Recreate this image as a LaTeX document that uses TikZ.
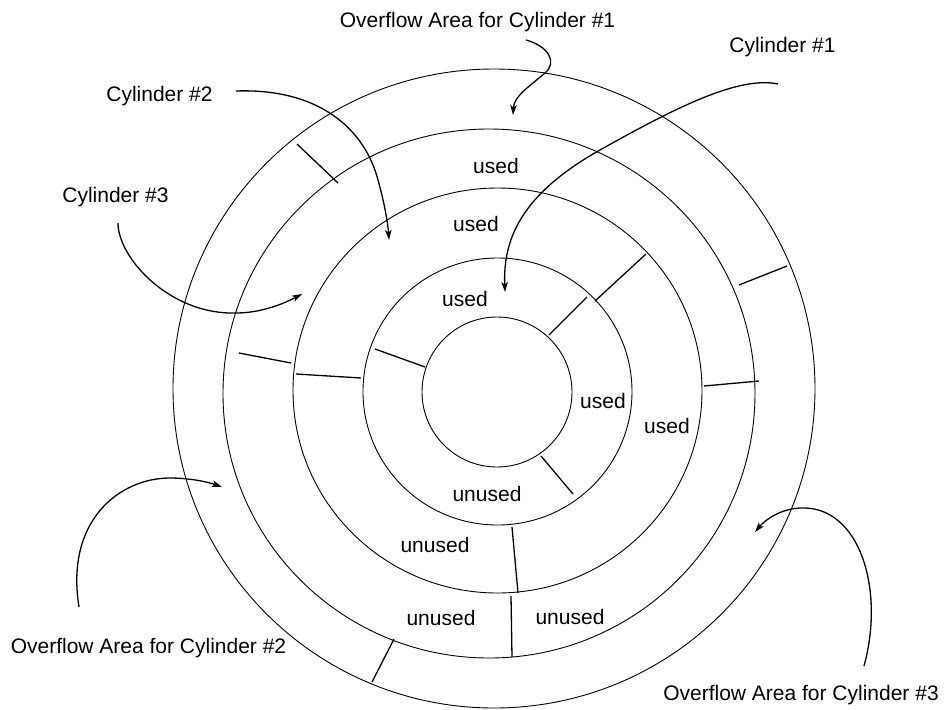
\documentclass[tikz,border=0pt]{standalone}
\usepackage{fontspec}
\setmainfont{Liberation Sans}
\usetikzlibrary{arrows.meta}
\begin{document}
\begin{tikzpicture}[x=1pt,y=-1pt,
  ring/.style={line width=0.9pt},
  tick/.style={line width=1.3pt},
  pointer/.style={line width=1.3pt,-{Stealth[length=10pt,width=6.5pt,inset=2.5pt]}},
  lbl/.style={font=\fontsize{21}{24}\selectfont,anchor=base,inner sep=0pt}]
\useasboundingbox (0,0) rectangle (946,710);
% rings
\draw[ring] (497,392) circle[x radius=75,y radius=75];
\draw[ring] (497.5,391.5) circle[x radius=134.5,y radius=133.5];
\draw[ring] (497.5,390.5) circle[x radius=204.5,y radius=202.5];
\draw[ring] (489,393.5) circle[x radius=266,y radius=264.5];
\draw[ring] (494,388.5) circle[x radius=321,y radius=319.5];
% separators
\draw[tick] (297,144) -- (338,183);
\draw[tick] (239,353) -- (291,363);
\draw[tick] (296,374) -- (361,378);
\draw[tick] (375,349) -- (425,367);
\draw[tick] (549,335) -- (587,297);
\draw[tick] (595,301) -- (646,254);
\draw[tick] (739,285) -- (787,266);
\draw[tick] (704,386) -- (759,381);
\draw[tick] (541,456) -- (573,494);
\draw[tick] (512,527) -- (518,593);
\draw[tick] (511,596) -- (512,657);
\draw[tick] (394,639) -- (372,682);
% ring labels
\node[lbl] (u1) at (496,173) {used};
\node[lbl] (u2) at (476,231) {used};
\node[lbl] (u3) at (465,306) {used};
\node[lbl] (u4) at (603,408) {used};
\node[lbl] (u5) at (667,433) {used};
\node[lbl] (n1) at (487,501) {unused};
\node[lbl] (n2) at (435,552) {unused};
\node[lbl] (n3) at (441,625) {unused};
\node[lbl] (n4) at (570,624) {unused};
% callout labels
\node[lbl] (oa1) at (477.5,27) {Overflow Area for Cylinder \#1};
\node[lbl] (c1) at (782.5,52) {Cylinder \#1};
\node[lbl] (c2) at (159.5,101) {Cylinder \#2};
\node[lbl] (c3) at (115.5,202) {Cylinder \#3};
\node[lbl] (oa2) at (148.5,653) {Overflow Area for Cylinder \#2};
\node[lbl] (oa3) at (801,700) {Overflow Area for Cylinder \#3};
% arrow ends
\coordinate (a1s) at (526,40);   \coordinate (a1e) at (513,115);
\coordinate (b1s) at (778,84);   \coordinate (b1e) at (505,292);
\coordinate (c2s) at (236,91);   \coordinate (c2e) at (389,240);
\coordinate (c3s) at (118,223);  \coordinate (c3e) at (302,294);
\coordinate (o2s) at (79,607);   \coordinate (o2e) at (222,487);
\coordinate (o3s) at (864,666);  \coordinate (o3e) at (755,532);
% arrows
\draw[pointer] (a1s) .. controls (548,46) and (558,62) .. (545,73)
   .. controls (530,86) and (514,96) .. (a1e);
\draw[pointer] (b1s) .. controls (740,76) and (680,105) .. (600,150)
   .. controls (520,195) and (503,240) .. (b1e);
\draw[pointer] (c2s) .. controls (320,88) and (365,130) .. (378,180)
   .. controls (385,205) and (388,225) .. (c2e);
\draw[pointer] (c3s) .. controls (118,258) and (170,315) .. (236,313)
   .. controls (262,313) and (285,303) .. (c3e);
\draw[pointer] (o2s) .. controls (65,520) and (120,478) .. (170,478)
   .. controls (190,478) and (208,482) .. (o2e);
\draw[pointer] (o3s) .. controls (885,590) and (860,505) .. (800,508)
   .. controls (780,509) and (765,520) .. (o3e);
\end{tikzpicture}
\end{document}
